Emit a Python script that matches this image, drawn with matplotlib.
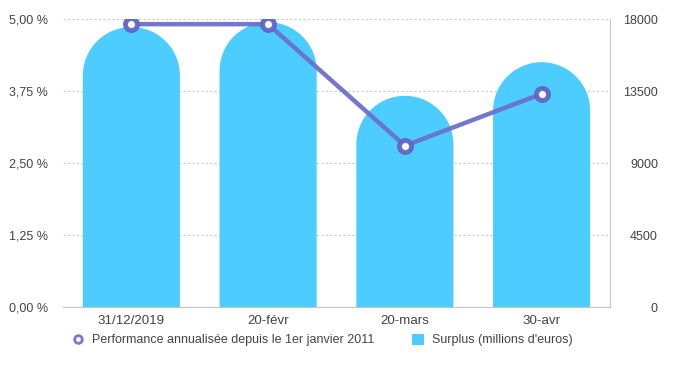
import numpy as np
import matplotlib
matplotlib.use("Agg")
import matplotlib.pyplot as plt
from matplotlib.patches import Polygon
from matplotlib.lines import Line2D
from matplotlib.patches import Patch

plt.rcParams['font.family'] = ['Liberation Sans', 'DejaVu Sans']

# data
categories = ['31/12/2019', '20-févr', '20-mars', '30-avr']
surplus = [17500, 17800, 13200, 15300]          # millions d'euros (right axis)
performance = [4.91, 4.91, 2.80, 3.70]           # % (left axis)
left_ticks = [0, 1.25, 2.5, 3.75, 5.0]
left_labels = ['0,00 %', '1,25 %', '2,50 %', '3,75 %', '5,00 %']
right_ticks = [0, 4500, 9000, 13500, 18000]

bar_color = '#4dcdff'
line_color = '#6b70cc'
text_color = '#444444'
axis_color = '#c4c4c4'

fig = plt.figure(figsize=(6.78, 3.66), dpi=100)
ax = fig.add_axes([63 / 678, 59 / 366, 547 / 678, 288 / 366])
ax2 = ax.twinx()

x = np.arange(len(categories))
ax.set_xlim(-0.5, len(categories) - 0.5)
ax.set_ylim(0, 5)
ax2.set_ylim(0, 18000)

# grid lines behind the bars
ax2.set_axisbelow(True)
ax2.grid(axis='y', color='#c8c8c8', linestyle=(0, (2, 2)), linewidth=0.8)
ax2.xaxis.grid(False)

# dome shaped bars: rectangle with a half circle (in pixels) on top
width = 0.71
fig.canvas.draw()
px_per_x = ax2.transData.transform((1, 0))[0] - ax2.transData.transform((0, 0))[0]
px_per_y = ax2.transData.transform((0, 1))[1] - ax2.transData.transform((0, 0))[1]
r_px = width / 2 * px_per_x
ry = r_px / px_per_y
theta = np.linspace(0, np.pi, 60)
for xi, h in zip(x, surplus):
    cx = xi
    cy = h - ry
    arc_x = cx + width / 2 * np.cos(theta)
    arc_y = cy + ry * np.sin(theta)
    pts = [(cx + width / 2, 0)] + list(zip(arc_x, arc_y)) + [(cx - width / 2, 0)]
    ax2.add_patch(Polygon(pts, closed=True, facecolor=bar_color, edgecolor='none'))

# performance line
ax.plot(x, performance, color=line_color, linewidth=3.2, alpha=0.95,
        marker='o', markersize=8.7, markerfacecolor='white',
        markeredgecolor='#5f64c6', markeredgewidth=3.5, zorder=5)
ax.set_zorder(ax2.get_zorder() + 1)
ax.patch.set_visible(False)

# axes styling
ax.set_xticks(x)
ax.set_xticklabels(categories)
ax.set_yticks(left_ticks)
ax.set_yticklabels(left_labels)
ax2.set_yticks(right_ticks)
ax2.set_yticklabels([str(t) for t in right_ticks])

for a in (ax, ax2):
    a.tick_params(length=0, labelsize=9, labelcolor=text_color)
    for s in a.spines.values():
        s.set_visible(False)
ax.tick_params(axis='x', labelsize=9.6, pad=6)
ax.tick_params(axis='y', pad=11)
ax2.tick_params(axis='y', pad=34.5)
for lbl in ax2.get_yticklabels():
    lbl.set_horizontalalignment('right')

ax.spines['bottom'].set_visible(True)
ax.spines['bottom'].set_color(axis_color)
ax2.spines['right'].set_visible(True)
ax2.spines['right'].set_color(axis_color)

# legend
handles = [
    Line2D([], [], color='none', marker='o', markersize=5.5, markerfacecolor='white',
           markeredgecolor='#7479cf', markeredgewidth=2),
    Patch(facecolor=bar_color, edgecolor='none'),
]
labels = ['Performance annualisée depuis le 1er janvier 2011', "Surplus (millions d'euros)"]
fig.legend(handles, labels, loc='center left', bbox_to_anchor=(72 / 678, 1 - 340 / 366),
           ncol=2, frameon=False, fontsize=9, labelcolor=text_color,
           handlelength=1.0, handleheight=1.0, handletextpad=0.6, columnspacing=3.0,
           borderpad=0, borderaxespad=0)

fig.savefig('out.png', dpi=100)
